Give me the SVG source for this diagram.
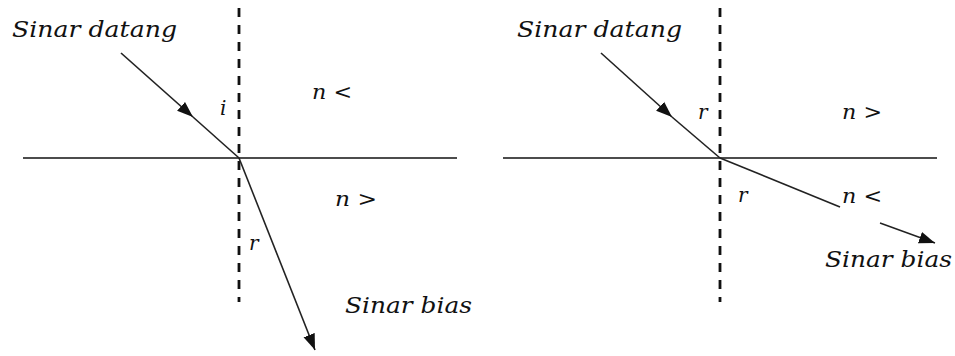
<svg xmlns="http://www.w3.org/2000/svg" width="955" height="356" viewBox="0 0 955 356">
<style>
text{font-family:"DejaVu Serif","Liberation Serif",serif;font-style:italic;fill:#111;}
.big{font-size:23px;}
.sm{font-size:20px;}
.ray{stroke:#222;stroke-width:1.6;fill:none;}
.axis{stroke:#111;stroke-width:1.7;fill:none;}
.normal{stroke:#111;stroke-width:2.8;stroke-dasharray:9 8;fill:none;}
</style>
<defs>
<marker id="arr" markerUnits="userSpaceOnUse" markerWidth="17" markerHeight="14" refX="16" refY="7" orient="auto">
<path d="M0,1 L16,7 L0,13 z" fill="#111"/>
</marker>
</defs>
<rect width="955" height="356" fill="#fff"/>
<g id="connectors">
<line class="axis" x1="23" y1="158" x2="457" y2="158"/>
<line class="normal" x1="239" y1="8" x2="239" y2="302"/>
<line class="ray" x1="121" y1="53" x2="193" y2="117" marker-end="url(#arr)"/>
<line class="ray" x1="193" y1="117" x2="239" y2="158"/>
<line class="ray" x1="239" y1="158" x2="315" y2="350" marker-end="url(#arr)"/>
<line class="axis" x1="503" y1="158" x2="937" y2="158"/>
<line class="normal" x1="720" y1="8" x2="720" y2="302"/>
<line class="ray" x1="601" y1="53" x2="672" y2="117" marker-end="url(#arr)"/>
<line class="ray" x1="672" y1="117" x2="720" y2="158"/>
<line class="ray" x1="720" y1="158" x2="840" y2="207"/>
<line class="ray" x1="880" y1="223" x2="935" y2="243" marker-end="url(#arr)"/>
</g>
<g id="left-sinar-datang"><text class="big" x="12" y="37" textLength="165" lengthAdjust="spacingAndGlyphs">Sinar datang</text></g>
<g id="left-i"><text class="sm" x="220" y="115">i</text></g>
<g id="left-n-less"><text class="sm" x="312" y="99" textLength="40" lengthAdjust="spacingAndGlyphs">n &lt;</text></g>
<g id="left-n-greater"><text class="sm" x="335" y="206" textLength="42" lengthAdjust="spacingAndGlyphs">n &gt;</text></g>
<g id="left-r"><text class="sm" x="249" y="250">r</text></g>
<g id="left-sinar-bias"><text class="big" x="345" y="313" textLength="127" lengthAdjust="spacingAndGlyphs">Sinar bias</text></g>
<g id="right-sinar-datang"><text class="big" x="517" y="37" textLength="165" lengthAdjust="spacingAndGlyphs">Sinar datang</text></g>
<g id="right-r-top"><text class="sm" x="698" y="119">r</text></g>
<g id="right-n-greater"><text class="sm" x="842" y="119" textLength="40" lengthAdjust="spacingAndGlyphs">n &gt;</text></g>
<g id="right-r-bottom"><text class="sm" x="738" y="202">r</text></g>
<g id="right-n-less"><text class="sm" x="842" y="203" textLength="40" lengthAdjust="spacingAndGlyphs">n &lt;</text></g>
<g id="right-sinar-bias"><text class="big" x="825" y="267" textLength="127" lengthAdjust="spacingAndGlyphs">Sinar bias</text></g>
</svg>
